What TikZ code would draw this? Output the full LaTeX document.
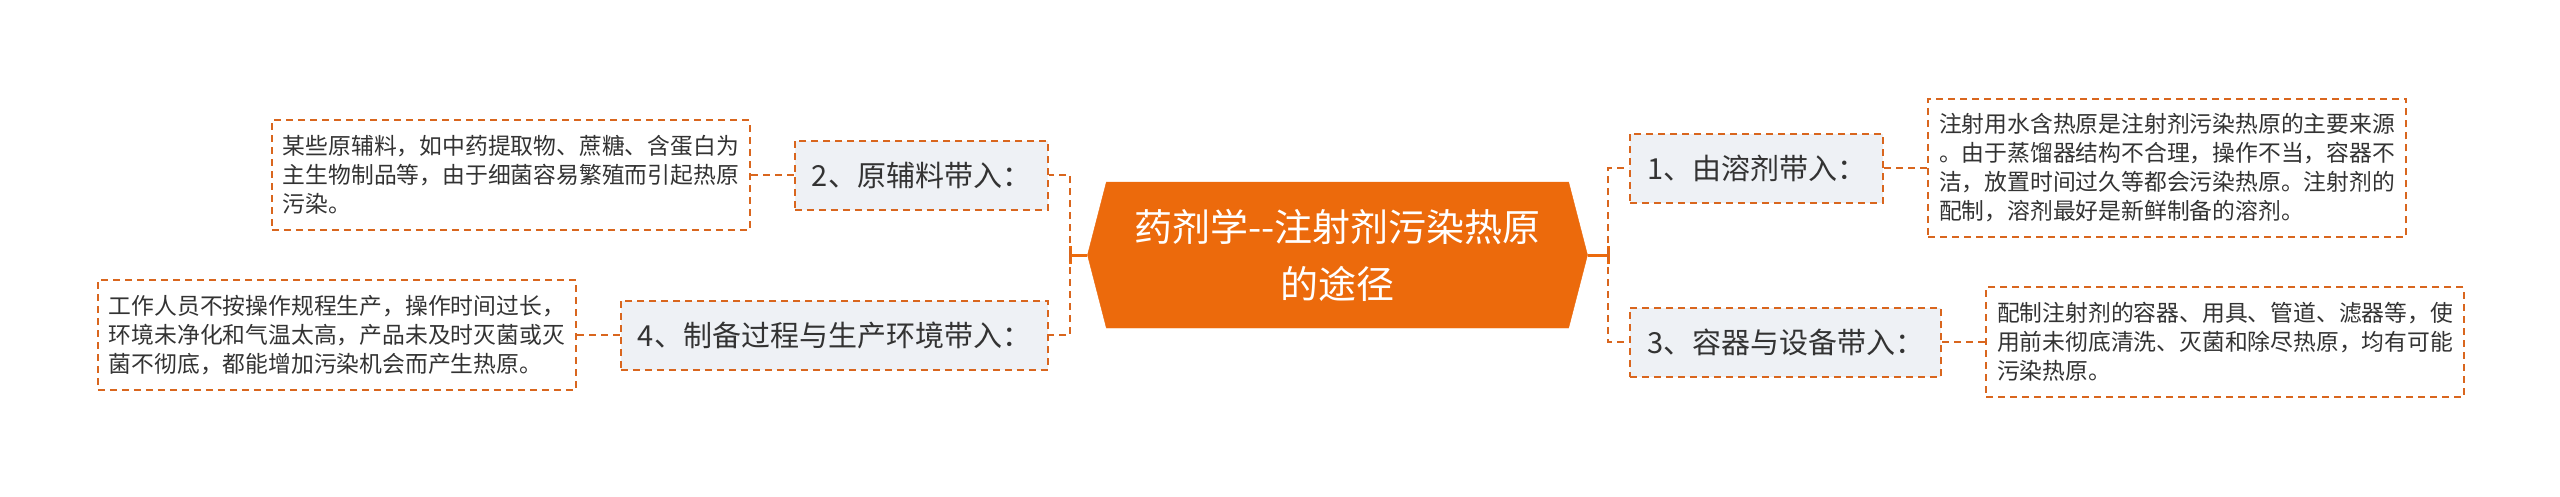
\documentclass[tikz,border=0pt]{standalone}
\usepackage{fontspec}
\setmainfont{Noto Sans CJK SC}
\usetikzlibrary{positioning,shapes.symbols}
\definecolor{rootorange}{HTML}{EC6A0C}
\definecolor{lineorange}{HTML}{D9661E}
\definecolor{topicfill}{HTML}{EEF1F5}
\definecolor{inkgrey}{HTML}{333333}
\begin{document}
\begin{tikzpicture}[
      x=1pt,y=-1pt,
      root/.style={shape=signal,signal to=east and west,signal pointer angle=151,
        fill=rootorange,draw=rootorange,text=white,minimum width=500pt,
        minimum height=146pt,inner sep=0pt,align=center,
        font=\fontsize{38}{57}\selectfont},
      topic/.style={draw=lineorange,line width=2pt,dash pattern=on 7pt off 5pt,
        fill=topicfill,text=inkgrey,minimum height=69pt,inner xsep=17pt,
        font=\fontsize{29}{34}\selectfont},
      note/.style={draw=lineorange,line width=2pt,dash pattern=on 7pt off 5pt,
        fill=white,text=inkgrey,text width=456pt,inner xsep=11pt,inner ysep=15pt,
        align=left,font=\fontsize{22.8}{29}\selectfont},
      link/.style={lineorange,line width=2pt,dash pattern=on 7pt off 5pt},
      stem/.style={rootorange,line width=3pt},
    ]
    \useasboundingbox (0,0) rectangle (2560,496);
    \node[root] (root) at (1337.5,255) {药剂学{-}{-}注射剂污染热原\\的途径};
    \coordinate (rj) at (1608,255);
    \coordinate (lj) at (1070,255);
    \node[topic,anchor=west] (t1) at (1629,168) {1、由溶剂带入：};
    \node[topic,anchor=west] (t3) at (1629,342) {3、容器与设备带入：};
    \node[topic,anchor=east] (t2) at (1049,175) {2、原辅料带入：};
    \node[topic,anchor=east] (t4) at (1049,335) {4、制备过程与生产环境带入：};
    \node[note,right=43pt of t1] (n1) {注射用水含热原是注射剂污染热原的主要来源\\。由于蒸馏器结构不合理，操作不当，容器不\\洁，放置时间过久等都会污染热原。注射剂的\\配制，溶剂最好是新鲜制备的溶剂。};
    \node[note,right=43pt of t3] (n3) {配制注射剂的容器、用具、管道、滤器等，使\\用前未彻底清洗、灭菌和除尽热原，均有可能\\污染热原。};
    \node[note,left=43pt of t2] (n2) {某些原辅料，如中药提取物、蔗糖、含蛋白为\\主生物制品等，由于细菌容易繁殖而引起热原\\污染。};
    \node[note,left=43pt of t4] (n4) {工作人员不按操作规程生产，操作时间过长，\\环境未净化和气温太高，产品未及时灭菌或灭\\菌不彻底，都能增加污染机会而产生热原。};
    \draw[stem] (root.east) -- (rj);
    \draw[stem] ([yshift=-9pt]rj) -- ([yshift=9pt]rj);
    \draw[stem] (root.west) -- (lj);
    \draw[stem] ([yshift=-9pt]lj) -- ([yshift=9pt]lj);
    \draw[link] (rj) |- (t1.west);
    \draw[link] (rj) |- (t3.west);
    \draw[link] (lj) |- (t2.east);
    \draw[link] (lj) |- (t4.east);
    \draw[link] (t1) -- (n1);
    \draw[link] (t3) -- (n3);
    \draw[link] (t2) -- (n2);
    \draw[link] (t4) -- (n4);
  \end{tikzpicture}
\end{document}
